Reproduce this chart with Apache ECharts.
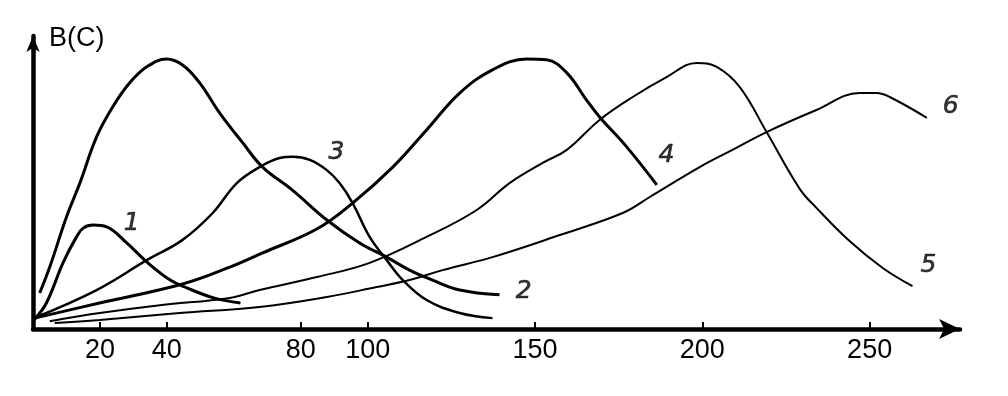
<!DOCTYPE html>
<html>
<head>
<meta charset="utf-8">
<script src="https://cdn.jsdelivr.net/npm/echarts@6/dist/echarts.min.js"></script>
<style>html,body{margin:0;padding:0;background:#fff;}#chart{width:1008px;height:396px;}</style>
</head>
<body>
<div id="chart"></div>
<script>
// x-axis tick labels (C)
const xTicks = [20, 40, 80, 100, 150, 200, 250];

// curves, [C, B(C)] pairs
const curve1 = [[0.3,3],[4,8.6],[9,22],[13,30.5],[15,33.4],[18,34.4],[22,33.8],[28,28.5],[34,22.2],[41,16.2],[46,13.6],[54,10.3],[62,8.6]];
const curve2 = [[2,11.9],[5,20.5],[10,37.1],[14,48.3],[19,63.6],[23.8,73.5],[28.9,81.5],[34,86.8],[39.9,89.4],[44.7,87.4],[49.8,81.5],[55.8,71.5],[62.7,61.6],[68.6,53.6],[77.6,45.9],[87.8,36.1],[97.6,28.5],[105.7,23.8],[112.5,19.5],[119.4,16.2],[127.5,12.9],[139.4,11.3]];
const curve3 = [[1.1,4],[19,12.9],[34,22.8],[44.7,29.5],[53.7,38.4],[60.9,48.3],[67.7,53.6],[73.7,56.6],[77.6,57],[82.7,56],[87.8,52.6],[91.6,48.3],[95.5,41.7],[100.6,30.5],[105.7,22.8],[110.5,16.2],[117.6,9.6],[127.5,5.3],[137.3,3.6]];
const curve4 = [[0.5,3.6],[19.9,8.6],[44.7,14.9],[58.8,20.5],[68.6,25.2],[84.8,33.1],[95.5,41.7],[107.5,53.6],[117.6,65.9],[127.5,78.1],[137.3,85.8],[147.5,89.4],[153.5,89.1],[159.5,84.8],[165.4,75.8],[169.3,70.2],[177.4,60.3],[186.4,47.7]];
const curve5 = [[5,2.6],[19.9,5.3],[37.9,7.9],[58.8,10.3],[67.7,12.9],[84.8,17.2],[100.6,21.9],[117.6,30.5],[132.6,39.4],[142.4,48.3],[152.3,55],[159.5,59.3],[169.3,69.2],[179.2,76.8],[189.3,83.4],[198.3,88.1],[204.3,86.8],[211.2,80.1],[219.2,65.2],[229.1,46.4],[234.1,40.1],[244,29.1],[253.9,20.2],[262.8,14.2]];
const curve6 = [[6.5,2],[19.9,3],[43.8,5.3],[67.7,7.3],[87.8,10.6],[102.7,13.9],[112.5,16.2],[122.4,19.5],[137.3,23.8],[157.4,31.1],[176.2,38.4],[184.3,43.7],[199.2,53.6],[209,59.3],[219.2,65.2],[234.1,72.5],[247,78.1],[252.1,78.1],[256,76.8],[267.1,69.9]];

// curve number labels
const labelNames = ['1', '2', '3', '4', '5', '6'];
const labelX = [29.5, 146.6, 90.7, 189.3, 267.6, 274.2];
const labelY = [34.8, 12.3, 58.3, 57.6, 20.9, 73.5];

const curves = [curve1, curve2, curve3, curve4, curve5, curve6];
const widths = [3, 3, 2.5, 3, 2, 2];

const chart = echarts.init(document.getElementById('chart'), null, {renderer: 'canvas'});
const series = curves.map((d, i) => ({
  type: 'line',
  name: 'curve' + (i + 1),
  data: d,
  smooth: 0.4,
  symbol: 'none',
  lineStyle: {color: '#000', width: widths[i]},
  silent: true,
  z: 3
}));
series.push({
  type: 'scatter',
  name: 'labels',
  symbolSize: 0,
  data: labelNames.map((n, i) => ({name: n, value: [labelX[i], labelY[i]]})),
  label: {
    show: true,
    position: 'inside',
    formatter: p => p.name,
    fontSize: 25,
    fontFamily: 'DejaVu Sans',
    fontStyle: 'italic',
    color: '#000',
    textBorderColor: '#000',
    textBorderWidth: 0.6
  },
  silent: true,
  z: 4
});

chart.setOption({
  animation: false,
  backgroundColor: '#fff',
  title: {
    text: 'B(C)',
    left: 44,
    top: 20,
    textStyle: {fontFamily: 'Liberation Sans', fontSize: 27, fontWeight: 'normal', color: '#000'}
  },
  grid: {left: 33, right: 48, top: 36, bottom: 67},
  xAxis: {
    type: 'value',
    min: 0,
    max: 277,
    splitLine: {show: false},
    axisLine: {
      show: true,
      lineStyle: {color: '#000', width: 4.5},
      symbol: ['none', 'arrow'],
      symbolSize: [15, 21]
    },
    axisTick: {show: true, inside: true, length: 7, lineStyle: {color: '#000', width: 2}, customValues: xTicks},
    axisLabel: {show: true, customValues: xTicks, fontSize: 27, fontFamily: 'Liberation Sans', color: '#000', margin: 8}
  },
  yAxis: {
    type: 'value',
    min: 0,
    max: 97,
    splitLine: {show: false},
    axisLine: {
      show: true,
      lineStyle: {color: '#000', width: 4.5},
      symbol: ['none', 'arrow'],
      symbolSize: [10, 16]
    },
    axisTick: {show: false},
    axisLabel: {show: false}
  },
  series: series
});
</script>
</body>
</html>
